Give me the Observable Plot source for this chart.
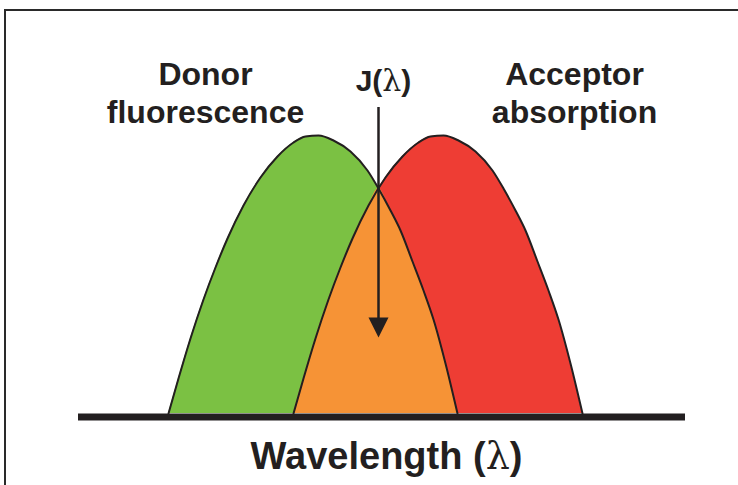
<!DOCTYPE html>
<html>
<head>
<meta charset="utf-8">
<script src="https://cdn.jsdelivr.net/npm/d3@7"></script>
<script src="https://cdn.jsdelivr.net/npm/@observablehq/plot@0.6"></script>
<style>
  html, body { margin: 0; padding: 0; background: #fff; overflow: hidden; }
  #wrap { position: relative; width: 738px; height: 485px; overflow: hidden; }
  #frame { position: absolute; left: 4px; top: 9px; width: 800px; height: 600px;
           border: 2px solid #2a2a2a; box-sizing: border-box; pointer-events: none; }
  svg { display: block; }
</style>
</head>
<body>
<div id="wrap"><div id="chart"></div><div id="frame"></div></div>
<script>
// Donor fluorescence spectrum (wavelength, intensity)
const donorX = [168, 178, 190, 203, 215, 227, 243, 260, 277, 293, 305, 318, 333, 350, 367, 378, 390, 400, 412, 423, 433, 445, 457];
const donorY = [0, 35, 75, 114, 146, 175, 208, 236, 257, 271, 277, 278, 273, 262, 243, 225, 203, 183, 152, 123, 94, 50, 0];
// Acceptor absorption spectrum
const acceptorX = [293, 303, 315, 328, 340, 352, 368, 385, 402, 418, 430, 443, 458, 475, 492, 503, 515, 525, 537, 548, 558, 570, 582];
const acceptorY = [0, 35, 75, 114, 146, 175, 208, 236, 257, 271, 277, 278, 273, 262, 243, 225, 203, 183, 152, 123, 94, 50, 0];
// Crossing point of the two spectra (overlap integral J)
const crossX = 378;
// Text
const donorLabel = "Donor\nfluorescence";
const jLabel = "J(λ)";
const acceptorLabel = "Acceptor\nabsorption";
const axisLabel = "Wavelength (λ)";

const GREEN = "#7bc143", RED = "#ee3d34", ORANGE = "#f69336", INK = "#231f20";
const FONT = "Liberation Sans, Arial, Helvetica, sans-serif";

const donor = donorX.map((x, i) => ({x, y: donorY[i]}));
const acceptor = acceptorX.map((x, i) => ({x, y: acceptorY[i]}));
const overlap = acceptor.filter(d => d.x < crossX)
  .concat([{x: crossX, y: donor.find(d => d.x === crossX).y}])
  .concat(donor.filter(d => d.x > crossX));

// downward arrow head with its tip at the anchor point
const arrowHead = {
  draw(ctx) {
    ctx.moveTo(0, 0);
    ctx.lineTo(-10, -20);
    ctx.lineTo(10, -20);
    ctx.closePath();
  }
};

const curve = "monotone-x";
const chart = Plot.plot({
  width: 738,
  height: 485,
  marginLeft: 78,
  marginRight: 53,
  marginTop: 113,
  marginBottom: 72,
  x: {domain: [78, 685], axis: null},
  y: {domain: [0, 300], axis: null},
  marks: [
    Plot.areaY(donor, {x: "x", y: "y", fill: GREEN, curve}),
    Plot.areaY(acceptor, {x: "x", y: "y", fill: RED, curve}),
    Plot.areaY(overlap, {x: "x", y: "y", fill: ORANGE, curve}),
    Plot.lineY(donor, {x: "x", y: "y", stroke: INK, strokeWidth: 2, curve}),
    Plot.lineY(acceptor, {x: "x", y: "y", stroke: INK, strokeWidth: 2, curve}),
    Plot.ruleY([0], {stroke: INK, strokeWidth: 7, dy: 3.5}),
    Plot.ruleX([crossX], {y1: 306, y2: 80, stroke: INK, strokeWidth: 2.5}),
    Plot.dot([crossX], {x: d => d, y: 76, symbol: arrowHead, fill: INK, stroke: null}),
    Plot.text([donorLabel], {x: 205, y: 322, text: d => d, fontSize: 32, fontWeight: "bold",
      fontFamily: FONT, fill: INK, lineHeight: 1.19}),
    Plot.text([acceptorLabel], {x: 574, y: 322, text: d => d, fontSize: 32, fontWeight: "bold",
      fontFamily: FONT, fill: INK, lineHeight: 1.19}),
    Plot.text([jLabel], {x: 383, y: 332, text: d => d, fontSize: 30, fontWeight: "bold",
      fontFamily: FONT, fill: INK}),
    Plot.text([axisLabel], {x: 386, y: -43, text: d => d, fontSize: 38, fontWeight: "bold",
      fontFamily: FONT, fill: INK})
  ]
});
document.getElementById("chart").append(chart);

// render λ in a light serif face, like the original symbol glyph
d3.select(chart).selectAll("text").each(function() {
  const el = this;
  if (el.children.length || !el.textContent.includes("λ")) return;
  const parts = el.textContent.split("λ");
  el.textContent = "";
  parts.forEach((p, i) => {
    if (i > 0) {
      const t = document.createElementNS("http://www.w3.org/2000/svg", "tspan");
      t.setAttribute("font-weight", "normal");
      t.setAttribute("font-family", "DejaVu Serif, serif");
      t.textContent = "λ";
      el.appendChild(t);
    }
    if (p) {
      const t = document.createElementNS("http://www.w3.org/2000/svg", "tspan");
      t.textContent = p;
      el.appendChild(t);
    }
  });
});
</script>
</body>
</html>
